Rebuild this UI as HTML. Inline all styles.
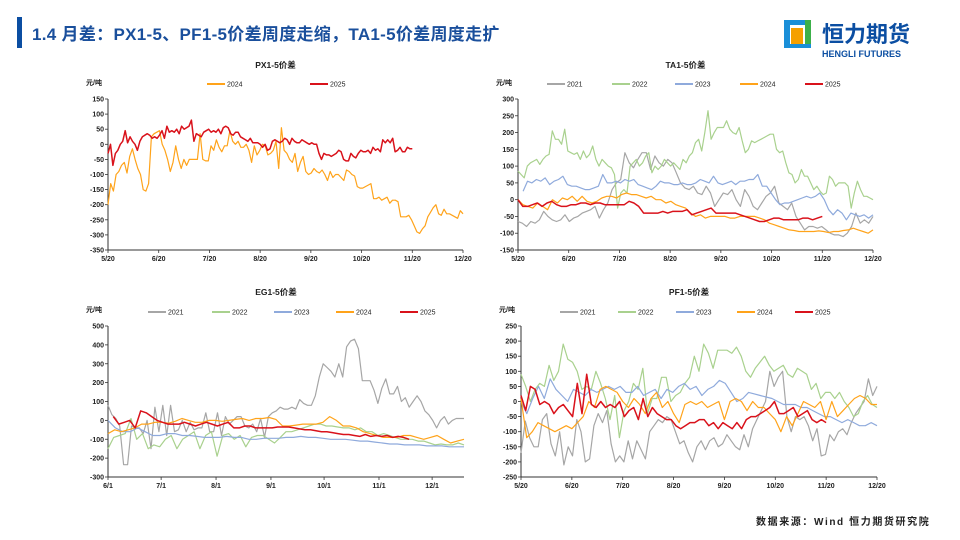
<!DOCTYPE html>
<html><head><meta charset="utf-8">
<style>
body{margin:0;width:960px;height:540px;background:#fff;overflow:hidden;font-family:"Liberation Sans","Noto Sans CJK SC",sans-serif;position:relative}
#bar{position:absolute;left:17px;top:17px;width:5px;height:31px;background:#0b4ea2}
#title{position:absolute;left:32px;top:20px;font-size:17px;color:#1a4f9c;font-weight:bold;white-space:nowrap;letter-spacing:0.3px}
#logo{position:absolute;left:784px;top:20px;width:150px;height:40px}
#src{position:absolute;left:756px;top:513px;font-size:10px;color:#222;letter-spacing:1.6px;font-weight:bold}
svg#c{position:absolute;left:0;top:0}
</style></head><body>
<div id="bar"></div>
<div id="title">1.4 月差：PX1-5、PF1-5价差周度走缩，TA1-5价差周度走扩</div>
<div id="logo">
<svg width="150" height="40"><rect x="0" y="0" width="6" height="28" fill="#1a8fd8"/><rect x="0" y="0" width="27" height="5" fill="#1a8fd8"/><rect x="21" y="0" width="6" height="28" fill="#3cb04a"/><rect x="7" y="8" width="12" height="17" fill="#f5a000"/><rect x="0" y="24" width="27" height="4" fill="#1a8fd8"/>
<text x="38" y="22" font-size="22" font-weight="bold" fill="#0b4ea2" font-family="Liberation Sans,Noto Sans CJK SC,sans-serif">恒力期货</text>
<text x="38" y="37" font-size="9" font-weight="bold" fill="#0b4ea2" font-family="Liberation Sans,sans-serif">HENGLI FUTURES</text></svg></div>
<div id="src">数据来源：Wind 恒力期货研究院</div>
<svg id="c" width="960" height="540"></svg>
<script>
// ---------- data ----------
const monthTicks=["5/20","6/20","7/20","8/20","9/20","10/20","11/20","12/20"];
const egTicks=["6/1","7/1","8/1","9/1","10/1","11/1","12/1"];
const egTickDays=[0,30,61,92,122,153,183];
const pxSeries=["2024","2025"];
const px2024=[-200,-130,-155,-100,-90,-70,-60,-95,-40,-15,-50,-80,-100,-150,-155,-130,25,35,40,45,0,-20,-50,-90,-60,-5,-50,-80,-50,-70,-50,-50,-50,-50,35,-50,-55,-55,-5,-20,15,-10,-25,-5,-5,45,10,0,10,-10,-10,0,-20,-60,-5,-35,-20,0,-5,-35,-30,-20,10,-80,55,-20,-30,-50,-60,-30,-90,-60,-40,-90,-100,-95,-80,-90,-95,-85,-100,-120,-90,-110,-100,-100,-110,-120,-85,-90,-100,-105,-140,-145,-145,-140,-135,-130,-180,-180,-175,-185,-180,-175,-195,-185,-185,-190,-240,-240,-240,-235,-250,-270,-290,-295,-280,-270,-240,-225,-210,-200,-230,-235,-215,-230,-230,-235,-240,-245,-220,-230];
const px2025=[-30,0,-70,-30,-20,0,10,45,5,25,10,0,-20,10,25,30,35,30,20,25,20,30,45,20,60,40,45,40,50,35,60,50,55,60,80,10,35,30,25,40,45,50,40,45,40,50,35,55,60,55,35,30,40,40,25,20,15,10,20,5,5,5,0,-10,0,-20,-15,10,15,10,5,10,20,15,0,20,10,5,5,15,10,5,0,5,0,0,-30,-50,-30,-35,-35,-40,-35,-30,-20,-25,-50,-55,-55,-30,-40,-45,-30,-20,-25,-25,-20,-30,-10,-20,-15,-25,15,5,15,5,20,-25,-20,-10,-25,-25,-10,-15,-15];
const pxRanges=[[0,7],[0,6]];
const multiSeries=["2021","2022","2023","2024","2025"];
const ta2021=[-65,-70,-80,-65,-70,-60,-35,-50,-60,-65,-60,-45,-65,-55,-50,-40,-35,-30,-20,-55,-30,-10,30,50,60,140,110,95,120,140,140,90,130,110,100,120,110,80,50,35,30,40,20,15,40,20,-20,0,20,15,30,0,-20,30,10,-20,-30,-10,10,20,40,-10,-20,-30,-10,-50,-70,-90,-80,-80,-85,-80,-90,-100,-105,-105,-110,-100,-80,-40,-70,-60,-70,-50];
const ta2022=[85,75,65,100,110,115,120,105,120,130,135,205,180,180,165,210,145,140,135,140,120,145,125,135,160,120,100,120,110,100,95,75,-25,20,30,20,100,110,120,100,110,130,140,80,100,90,100,120,110,100,110,100,90,120,110,130,140,170,180,145,200,265,180,200,215,215,215,235,210,200,195,215,175,140,150,175,170,175,180,185,190,195,195,150,140,145,110,80,75,50,60,90,70,70,50,30,40,25,15,20,70,60,40,50,50,50,40,-25,20,55,30,10,10,5,0];
const ta2023=[25,55,50,60,55,65,45,55,60,70,45,40,40,35,30,30,35,40,75,50,50,55,50,60,55,60,45,40,35,30,40,55,50,50,45,45,50,45,45,50,60,55,50,70,50,45,50,55,45,55,55,60,60,75,40,40,20,0,-15,-10,-10,-5,0,5,10,5,10,20,0,-30,-45,-30,-40,-60,-40,-45,-50,-45,-55,-45];
const ta2024=[0,-15,-20,-25,-10,-20,-30,0,-10,5,0,10,-5,10,-5,-10,-5,5,10,10,5,15,20,15,15,10,5,10,0,0,-10,-5,-15,-20,-25,-40,-50,-45,-55,-50,-50,-50,-50,-55,-55,-50,-50,-50,-50,-55,-60,-70,-75,-80,-85,-90,-92,-95,-95,-95,-95,-93,-95,-98,-95,-95,-92,-90,-85,-90,-95,-100,-90];
const ta2025=[0,-20,-20,-15,-10,-20,-10,-5,-15,-20,-20,-15,-15,-10,-10,-15,-10,-10,-15,-15,-15,-15,-15,-5,-10,-20,-40,-40,-40,-40,-35,-40,-35,-35,-35,-30,-45,-40,-35,-30,-25,-40,-40,-40,-40,-40,-45,-50,-55,-60,-65,-65,-60,-55,-55,-60,-60,-60,-60,-55,-55,-60,-55,-50];
const taRanges=[[0,7],[0,7],[0.1,7],[0,7],[0,6]];
const eg2021=[80,30,10,-30,-235,-235,-30,-40,-40,-70,0,-150,70,-60,80,-80,80,-60,-50,0,-60,-10,-50,-40,-40,40,-60,-60,40,-80,20,-20,0,20,20,-30,-40,-20,-60,10,-90,20,40,50,70,60,60,70,60,110,90,80,80,130,230,300,280,260,230,300,230,390,420,430,380,210,210,210,160,90,170,220,140,140,180,100,120,70,100,130,100,50,30,0,-40,0,20,-20,0,10,10,10];
const eg2022=[-150,-90,-80,-70,10,-100,-70,-150,-130,-140,-100,-80,-150,-100,-80,-60,-150,-80,-60,-190,-80,-70,-100,-80,-140,-90,-80,-80,-100,-120,-90,-60,-60,-50,-40,-30,-20,-20,-30,-30,-35,-40,-40,-50,-40,-60,-60,-80,-70,-80,-90,-100,-100,-100,-110,-110,-120,-130,-125,-130,-130,-120,-130];
const eg2023=[0,-40,-60,-60,-40,-60,-80,-80,-70,-70,-80,-80,-85,-90,-90,-90,-85,-90,-90,-100,-100,-95,-95,-95,-90,-90,-85,-90,-90,-95,-100,-100,-100,-105,-110,-110,-115,-120,-125,-125,-130,-130,-130,-135,-135,-135,-140,-140,-140];
const eg2024=[-70,-50,-60,-50,-40,-20,-20,-10,-10,-15,-5,10,0,-10,-10,0,0,-5,0,5,10,0,10,10,15,5,-30,-30,-25,-20,-20,-20,-10,20,0,-30,-30,-40,-60,-70,-80,-90,-90,-90,-80,-80,-90,-100,-90,-80,-100,-120,-110,-100];
const eg2025=[20,-20,-10,0,-40,50,40,20,0,-10,-20,-20,-20,-10,-20,-30,-20,-10,-20,-30,-20,-10,-40,-40,-30,-30,-40,-40,-40,-40,-35,-35,-35,-40,-45,-50,-50,-55,-60,-60,-65,-70,-75,-75,-80,-85,-75,-85,-80,-85,-80,-90,-85,-90,-100];
const egRanges=[[0,201],[0,201],[0,201],[0,201],[3,170]];
const pf2021=[-170,-65,-120,-150,-150,-60,-40,-140,-180,-100,-210,-150,-180,-60,-100,-200,-190,-80,-40,-70,-30,-140,-200,-180,-200,-130,-190,-130,-160,-190,-100,-80,-60,-70,-50,-60,-100,-140,-130,-170,-200,-150,-130,-160,-130,-120,-150,-140,-110,-130,-150,-160,-110,-150,-90,-60,-30,0,100,50,80,100,-50,-100,-50,-60,-50,-80,-130,-90,-180,-175,-110,-130,-100,-90,-110,-70,-40,-20,0,75,20,50];
const pf2022=[90,50,0,40,60,50,120,70,100,190,140,130,100,40,50,40,100,60,10,-60,20,-120,-30,0,60,40,110,-40,10,10,80,80,0,20,30,60,80,150,100,190,160,110,170,170,170,160,180,150,100,80,110,130,150,120,100,110,120,90,80,110,100,90,40,60,10,30,30,10,30,0,-20,-50,-40,0,20,-10,-20];
const pf2023=[0,-40,10,50,10,75,40,20,0,40,30,20,40,30,40,50,40,50,30,30,50,20,30,40,10,40,30,50,60,40,50,20,40,50,70,60,30,0,10,30,25,20,15,10,0,-10,-10,-10,-20,-20,-30,-40,-50,-50,-60,-70,-60,-70,-80,-80,-70,-80];
const pf2024=[10,-120,-100,-70,-80,-90,-100,-90,-80,-90,-70,-50,0,-20,40,50,40,30,0,-20,10,-10,-40,10,30,-20,0,-40,-70,-10,0,-10,0,-20,-10,0,-60,0,10,0,-30,0,-20,-20,-40,-60,-100,-50,-80,-40,0,-10,-20,0,-60,0,-50,-30,-10,10,20,10,-10,-10];
const pf2025=[20,-30,50,40,-10,0,-10,-40,-20,-10,-30,-50,60,-40,90,-10,-20,0,-20,-10,-20,0,-50,-30,-20,-60,10,-50,-20,-40,-50,-60,-60,-80,-90,-80,-70,-70,-60,-60,-80,-70,-90,-70,-80,-90,-70,-90,-60,-50,-50,-40,-30,-20,0,-40,-40,-30,-20,-50,-40,-30,-60,-70,-60,-70];
const pfRanges=[[0,7],[0,7],[0,7],[0,7],[0,6]];

// ---------- drawing ----------
const NS="http://www.w3.org/2000/svg";
const svg=document.getElementById('c');
const COL={"2021":"#a6a6a6","2022":"#a9d18e","2023":"#8faadc","2024":"#ffa31a","2025":"#d9121b"};
const FONT='"Liberation Sans","Noto Sans CJK SC",sans-serif';
function mk(tag,attrs,parent){const e=document.createElementNS(NS,tag);for(const k in attrs)e.setAttribute(k,attrs[k]);(parent||svg).appendChild(e);return e;}
function txt(x,y,s,size,anchor,parent,weight){const t=mk('text',{x:x,y:y,'font-size':size,'text-anchor':anchor||'start','font-family':FONT,fill:'#222','font-weight':weight||'bold'},parent);t.textContent=s;return t;}

function panel(p){
  const g=mk('g',{});
  
  
  const sx=v=>p.x0+(v-p.xmin)/(p.xmax-p.xmin)*(p.x1-p.x0);
  const sy=v=>p.y1-(v-p.ymin)/(p.ymax-p.ymin)*(p.y1-p.y0);
  const t=txt((p.x0+p.x1)/2-10,p.ty,p.title,8.5,'middle',g);
  
  
  const u=txt(p.x0-22,p.ty+17,'元/吨',7,'start',g);
  
  
  // y axis
  const ya=mk('line',{x1:p.x0,x2:p.x0,y1:p.y0,y2:p.y1,stroke:'#333','stroke-width':1},g);
  
  
  for(let v=p.ymin;v<=p.ymax;v+=p.ystep){
    const y=sy(v);
    mk('line',{x1:p.x0-3,x2:p.x0,y1:y,y2:y,stroke:'#333','stroke-width':0.8},g);
    const l=txt(p.x0-4,y+2.5,String(v),7,'end',g);
    
    
  }
  const xa=mk('line',{x1:p.x0,x2:p.x1,y1:p.y1,y2:p.y1,stroke:'#333','stroke-width':1},g);
  
  
  p.xticks.forEach((s,i)=>{
    const x=sx(p.xtickPos[i]);
    mk('line',{x1:x,x2:x,y1:p.y1,y2:p.y1+3,stroke:'#333','stroke-width':0.8},g);
    const l=txt(x,p.y1+11,s,7,'middle',g);
    
    
  });
  p.series.forEach((nm,i)=>{
    const vals=p.data[i],r=p.ranges[i];
    const step=(r[1]-r[0])/(vals.length-1);
    const pts=vals.map((v,j)=>sx(r[0]+j*step).toFixed(1)+','+sy(v).toFixed(1)).join(' ');
    const pl=mk('polyline',{points:pts,fill:'none',stroke:COL[nm],'stroke-width':nm==='2025'?1.5:1.2,'stroke-linejoin':'round'},g);
    
    
    const lx=p.legX[i];
    const lg=mk('g',{},g);
    
    
    mk('line',{x1:lx,x2:lx+18,y1:p.legY,y2:p.legY,stroke:COL[nm],'stroke-width':2},lg);
    txt(lx+20,p.legY+2.5,nm,7,'start',lg,'normal');
  });
}
const monthPos=[0,1,2,3,4,5,6,7];
panel({name:'px-spread-chart',title:'PX1-5价差',ty:68,x0:108,x1:463,y0:99,y1:250,ymin:-350,ymax:150,ystep:50,xmin:0,xmax:7,xticks:monthTicks,xtickPos:monthPos,series:pxSeries,data:[px2024,px2025],ranges:pxRanges,legX:[207,310],legY:84});
panel({name:'ta-spread-chart',title:'TA1-5价差',ty:68,x0:518,x1:873,y0:99,y1:250,ymin:-150,ymax:300,ystep:50,xmin:0,xmax:7,xticks:monthTicks,xtickPos:monthPos,series:multiSeries,data:[ta2021,ta2022,ta2023,ta2024,ta2025],ranges:taRanges,legX:[547,612,675,740,805],legY:84});
panel({name:'eg-spread-chart',title:'EG1-5价差',ty:295,x0:108,x1:464,y0:326,y1:477,ymin:-300,ymax:500,ystep:100,xmin:0,xmax:201,xticks:egTicks,xtickPos:egTickDays,series:multiSeries,data:[eg2021,eg2022,eg2023,eg2024,eg2025],ranges:egRanges,legX:[148,212,274,336,400],legY:312});
panel({name:'pf-spread-chart',title:'PF1-5价差',ty:295,x0:521,x1:877,y0:326,y1:477,ymin:-250,ymax:250,ystep:50,xmin:0,xmax:7,xticks:monthTicks,xtickPos:monthPos,series:multiSeries,data:[pf2021,pf2022,pf2023,pf2024,pf2025],ranges:pfRanges,legX:[560,618,676,737,795],legY:312});
</script>
</body></html>
